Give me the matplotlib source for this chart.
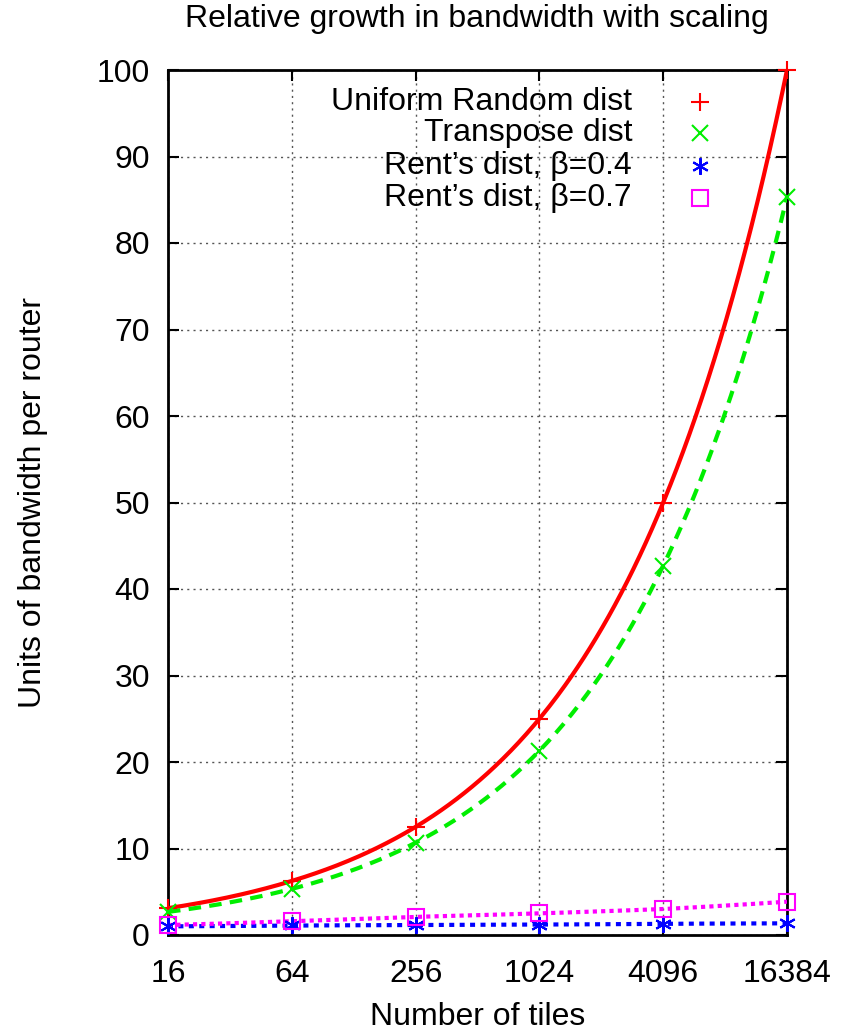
import numpy as np
import matplotlib
matplotlib.use("Agg")
import matplotlib.pyplot as plt
from matplotlib.lines import Line2D

plt.rcParams['font.family'] = ['Liberation Sans', 'DejaVu Sans']

tiles = [16, 64, 256, 1024, 4096, 16384]
uniform = [3.1, 6.25, 12.5, 25.0, 50.0, 100.0]
transpose = [2.67, 5.33, 10.67, 21.3, 42.7, 85.3]
rent04 = [1.0, 1.1, 1.15, 1.2, 1.3, 1.35]
rent07 = [1.15, 1.6, 2.1, 2.5, 3.0, 3.85]
labels = ["Uniform Random dist", "Transpose dist", "Rent\u2019s dist, \u03b2=0.4", "Rent\u2019s dist, \u03b2=0.7"]

W, H = 844, 1033
FS = 23
fig = plt.figure(figsize=(W/100, H/100), dpi=100)
L, R, T, B = 168, 787, 70, 935
ax = fig.add_axes([L/W, 1-B/H, (R-L)/W, (B-T)/H])

def smooth(x, y, n=400):
    lx = np.log2(x); ly = np.log(y)
    xs = np.linspace(lx[0], lx[-1], n)
    return 2**xs, np.exp(np.interp(xs, lx, ly))

series = [
    (uniform, '#ff0000', '-', '+', 13),
    (transpose, '#00ee00', (0, (3, 2)), 'x', 12),
    (rent04, '#0000ff', (0, (1.2, 1.3)), (6, 2, 0), 12),
    (rent07, '#ff00ff', (0, (1, 1)), 's', 11),
]
for ys, c, ls, m, ms in series:
    xs, yy = smooth(np.array(tiles, float), np.array(ys, float))
    ax.plot(xs, yy, color=c, ls=ls, lw=3, zorder=3)
    mfc = 'none' if m == 's' else c
    ax.plot(tiles, ys, ls='none', marker=m, color=c, ms=ms, mew=1.5, mfc=mfc, zorder=4, clip_on=False)

ax.set_xscale('log', base=2)
ax.set_xlim(16, 16384)
ax.set_ylim(0, 100)
ax.set_xticks(tiles)
ax.set_xticklabels([str(t) for t in tiles])
ax.xaxis.set_minor_locator(matplotlib.ticker.NullLocator())
ax.set_yticks(range(0, 101, 10))
ax.grid(True, color='#555555', ls=(0, (1.5, 3)), lw=1)
ax.tick_params(direction='in', top=True, right=True, length=8, width=1.5, labelsize=FS)
ax.tick_params(axis='x', pad=17)
ax.tick_params(axis='y', pad=13)
for s in ax.spines.values():
    s.set_linewidth(2)

fig.text((L+R)/2/W, 1-1017/H, "Number of tiles", fontsize=FS, ha='center', va='center')
fig.text(33/W, 1-(T+B)/2/H, "Units of bandwidth per router", fontsize=FS, ha='center', va='center', rotation=90)
fig.text(477/W, 1-19/H, "Relative growth in bandwidth with scaling", fontsize=FS, ha='center', va='center')

# legend drawn manually (gnuplot style: text right-aligned, marker to the right)
rows = [102, 133, 166, 198]
for (ys, c, ls, m, ms), lab, yp in zip(series, labels, rows):
    fig.text(632/W, 1-yp/H, lab, fontsize=FS, ha='right', va='center')
    mfc = 'none' if m == 's' else c
    fig.add_artist(Line2D([700/W], [1-yp/H], transform=fig.transFigure, ls='none', marker=m,
                          color=c, ms=ms, mew=1.5, mfc=mfc))

fig.savefig("out.png", dpi=100)
